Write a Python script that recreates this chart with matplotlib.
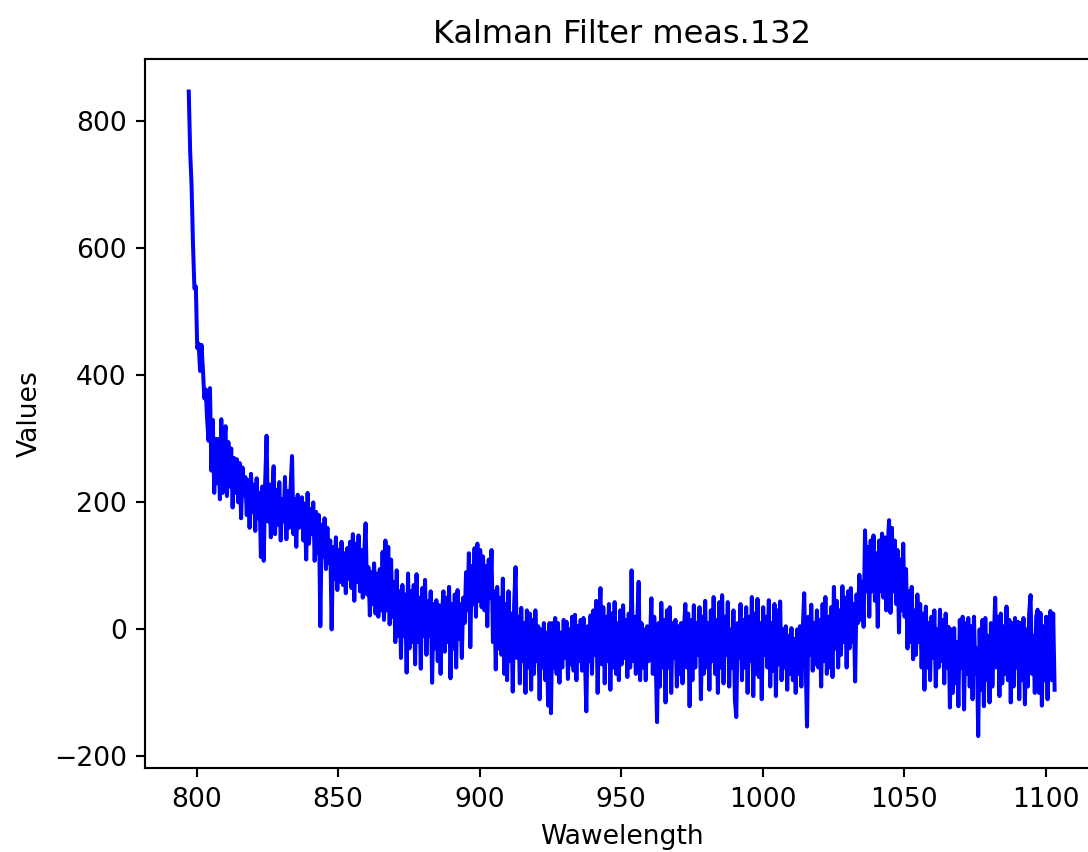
import numpy as np
import matplotlib
matplotlib.use("Agg")
import matplotlib.pyplot as plt

# wavelength range of the measurement (nm), evenly sampled
wl_start = 797.2
wl_end = 1103.2

# measured values, one row per 10 nm
values = [
    847, 752, 698, 606, 537, 540, 443, 450, 407, 448, 410, 364, 378, 330, 297, 380, 250, 330, 215, 300,
    230, 300, 205, 331, 215, 290, 320, 210, 295, 225, 285, 192, 270, 215, 268, 200, 262, 175, 255, 210,
    240, 180, 235, 160, 245, 185, 228, 155, 238, 175, 215, 114, 225, 108, 230, 305, 170, 228, 145, 215,
    257, 150, 220, 165, 232, 140, 205, 170, 240, 142, 218, 160, 225, 273, 150, 205, 130, 212, 160, 200,
    208, 140, 198, 110, 215, 135, 190, 150, 200, 108, 185, 120, 180, 5, 165, 115, 175, 95, 160, 105,
    140, 0, 130, 80, 145, 62, 125, 75, 138, 70, 120, 57, 128, 80, 138, 65, 150, 45, 135, 75,
    148, 60, 125, 50, 120, 167, 55, 98, 22, 90, 40, 104, 25, 88, 20, 95, 30, 122, 15, 140,
    30, 130, 8, 110, 20, 75, -20, 93, -10, 60, -45, 70, -10, 55, -68, 88, -30, 60, -20, 70,
    -55, 87, -20, 50, -62, 65, -10, 78, -40, 45, -10, 60, -84, 40, -30, 46, -50, 38, -70, 25,
    60, -35, 50, -20, 67, -77, 40, -30, 55, -60, 62, -15, 40, -45, 50, 10, 90, 30, 120, -28,
    100, 40, 128, 20, 135, 45, 125, 35, 115, 30, 100, 5, 110, 50, 125, -20, 60, -63, 67, -30,
    50, -40, 80, -70, 40, -80, 60, -50, 25, -98, 40, 98, -45, 20, -85, 34, -50, 10, -100, 30,
    -60, 25, -95, 15, -70, 30, -50, 5, -110, 0, -60, 10, -80, -5, -120, 10, -132, 10, -60, 18,
    -70, 10, -84, -5, -60, 15, -45, 12, -78, 0, -55, 20, -65, 23, -80, 5, -50, 15, -65, 18,
    -40, -129, 5, -50, 22, -70, 30, -40, 45, -100, 10, 65, -55, 35, -85, 20, -50, 40, -95, 25,
    -60, 43, -70, 10, -80, 30, -55, 38, -45, 15, -75, 25, -60, 93, -50, 20, -70, 10, 75, -80,
    10, -60, 0, -80, 5, -50, -20, 49, -70, 20, -40, -146, 10, -90, 42, -60, 15, -115, 30, -60,
    35, -100, 10, -45, 15, -90, 5, -70, 10, -85, 0, 40, -60, 25, -121, 15, -80, 38, -60, 10,
    -40, 35, -110, 20, -70, 45, -60, 10, -95, 30, -50, 51, -70, 15, -100, 43, -60, 54, -85, 20,
    -40, 43, -90, 0, -60, 30, -110, -138, 10, -45, 40, -80, 15, -60, 35, -100, 20, -50, 51, -105,
    25, -70, 48, -75, 10, -110, 35, -40, 20, -60, 46, -90, 10, -65, 40, -105, 30, -55, 44, -80,
    0, -60, 5, -95, -10, -70, 2, -80, -15, -100, 0, -70, 5, -90, 0, 57, -50, -153, 20, -40,
    39, -65, 10, -55, 30, -60, 15, -90, 40, -50, 51, -70, 20, -60, 35, -75, 67, -30, 45, -60,
    30, -40, 68, -20, 50, -60, 60, -30, 65, -20, 40, -82, 55, 10, 86, 15, 75, 4, 156, 60,
    130, 20, 140, 60, 148, 45, 120, 4, 140, 60, 151, 50, 145, 30, 130, 172, 26, 160, 60, 140,
    40, 125, -5, 110, 30, 135, 20, 95, -30, 60, -20, 67, -47, 30, -40, 55, -20, 40, -60, 25,
    -95, 36, -60, 10, -80, 20, -45, 30, -90, 0, -60, 31, -50, 15, -85, 25, -60, 4, -123, 0,
    -100, 2, -85, -20, -121, 15, -60, 20, -126, 10, -70, 18, -90, 5, -110, 20, -70, -30, -168, 0,
    -95, 15, -121, 18, -80, -10, -115, 10, -90, -20, 50, -60, 20, -105, 25, -85, 5, -70, 36, -80,
    15, -115, 10, -90, 18, -60, 12, -110, 10, -80, 18, -118, 0, -90, 25, 54, -70, -10, -100, 20,
    31, -100, 26, -120, 5, -80, 20, -110, 10, 29, -80, 25, -95,
]

wavelength = np.linspace(wl_start, wl_end, len(values))

fig = plt.figure(figsize=(1088 / 192, 852 / 192), dpi=192)
ax = fig.add_axes([0.1337, 0.0982, 0.8754, 0.8322])
ax.plot(wavelength, values, color="blue")
ax.set_xlabel("Wawelength")
ax.set_ylabel("Values")
ax.set_title("Kalman Filter meas.132")
fig.savefig("out.png", dpi=192)
